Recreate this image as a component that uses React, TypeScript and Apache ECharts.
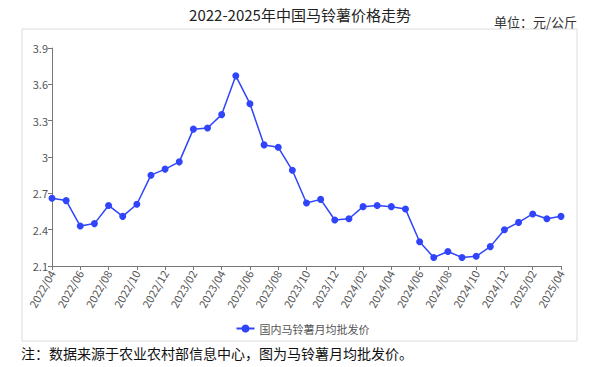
import React, { useEffect, useRef } from "react";
import * as echarts from "echarts";

const months: string[] = [
  "2022/04", "2022/05", "2022/06", "2022/07", "2022/08", "2022/09", "2022/10", "2022/11", "2022/12",
  "2023/01", "2023/02", "2023/03", "2023/04", "2023/05", "2023/06", "2023/07", "2023/08", "2023/09",
  "2023/10", "2023/11", "2023/12", "2024/01", "2024/02", "2024/03", "2024/04", "2024/05", "2024/06",
  "2024/07", "2024/08", "2024/09", "2024/10", "2024/11", "2024/12", "2025/01", "2025/02", "2025/03",
  "2025/04",
];

const prices: number[] = [
  2.66, 2.64, 2.43, 2.45, 2.6, 2.51, 2.61, 2.85, 2.9,
  2.96, 3.23, 3.24, 3.35, 3.67, 3.44, 3.1, 3.08, 2.89,
  2.62, 2.65, 2.48, 2.49, 2.59, 2.6, 2.59, 2.57, 2.3,
  2.17, 2.22, 2.17, 2.18, 2.26, 2.4, 2.46, 2.53, 2.49,
  2.51,
];

const seriesName = "国内马铃薯月均批发价";
const titleText = "2022-2025年中国马铃薯价格走势";
const unitText = "单位：元/公斤";
const noteText = "注：数据来源于农业农村部信息中心，图为马铃薯月均批发价。";

export default function App() {
  const ref = useRef<HTMLDivElement>(null);
  useEffect(() => {
    if (!ref.current) return;
    const chart = echarts.init(ref.current, null, { renderer: "svg" });
    const blue = "#2f44fb";
    chart.setOption({
      animation: false,
      backgroundColor: "#fff",
      textStyle: { fontFamily: "'Noto Sans CJK SC', 'Noto Sans', sans-serif" },
      graphic: [
        {
          type: "rect",
          shape: { x: 22, y: 29, width: 555, height: 312 },
          style: { fill: "none", stroke: "#dcdcdc", lineWidth: 1 },
          silent: true,
        },
        {
          type: "text",
          x: 300,
          y: 14,
          style: {
            text: titleText,
            fontSize: 15,
            fill: "#222",
            align: "center",
            verticalAlign: "middle",
            fontFamily: "'Noto Sans CJK SC', sans-serif",
          },
        },
        {
          type: "text",
          x: 577,
          y: 21,
          style: {
            text: unitText,
            fontSize: 13,
            fill: "#333",
            align: "right",
            verticalAlign: "middle",
            fontFamily: "'Noto Sans CJK SC', sans-serif",
          },
        },
        {
          type: "text",
          x: 21,
          y: 353,
          style: {
            text: noteText,
            fontSize: 14,
            fill: "#111",
            align: "left",
            verticalAlign: "middle",
            fontFamily: "'Noto Sans CJK SC', sans-serif",
          },
        },
      ],
      legend: {
        show: true,
        data: [seriesName],
        left: "center",
        top: 318,
        itemWidth: 18,
        itemHeight: 10,
        textStyle: { fontSize: 11, color: "#555" },
      },
      grid: { left: 52, right: 44, top: 48, bottom: 101, containLabel: false },
      xAxis: {
        type: "category",
        data: months,
        boundaryGap: false,
        axisLine: { lineStyle: { color: "#777", width: 1 } },
        axisTick: { show: true, interval: 1, length: 4, lineStyle: { color: "#777" } },
        axisLabel: {
          interval: 1,
          rotate: 60,
          fontSize: 11,
          color: "#555",
          margin: 5,
        },
        splitLine: { show: false },
      },
      yAxis: {
        type: "value",
        min: 2.1,
        max: 3.9,
        interval: 0.3,
        axisLine: { show: true, lineStyle: { color: "#777", width: 1 } },
        axisTick: { show: true, length: 4, lineStyle: { color: "#777" } },
        axisLabel: {
          fontSize: 11,
          color: "#555",
          margin: 4,
          formatter: (v: number) => String(parseFloat(v.toFixed(1))),
        },
        splitLine: { show: false },
      },
      series: [
        {
          name: seriesName,
          type: "line",
          data: prices,
          symbol: "circle",
          symbolSize: 7,
          showSymbol: true,
          lineStyle: { color: blue, width: 1.5 },
          itemStyle: { color: blue },
        },
      ],
    });
    return () => chart.dispose();
  }, []);
  return <div ref={ref} style={{ width: 605, height: 367, position: "absolute", left: 0, top: 0 }} />;
}
